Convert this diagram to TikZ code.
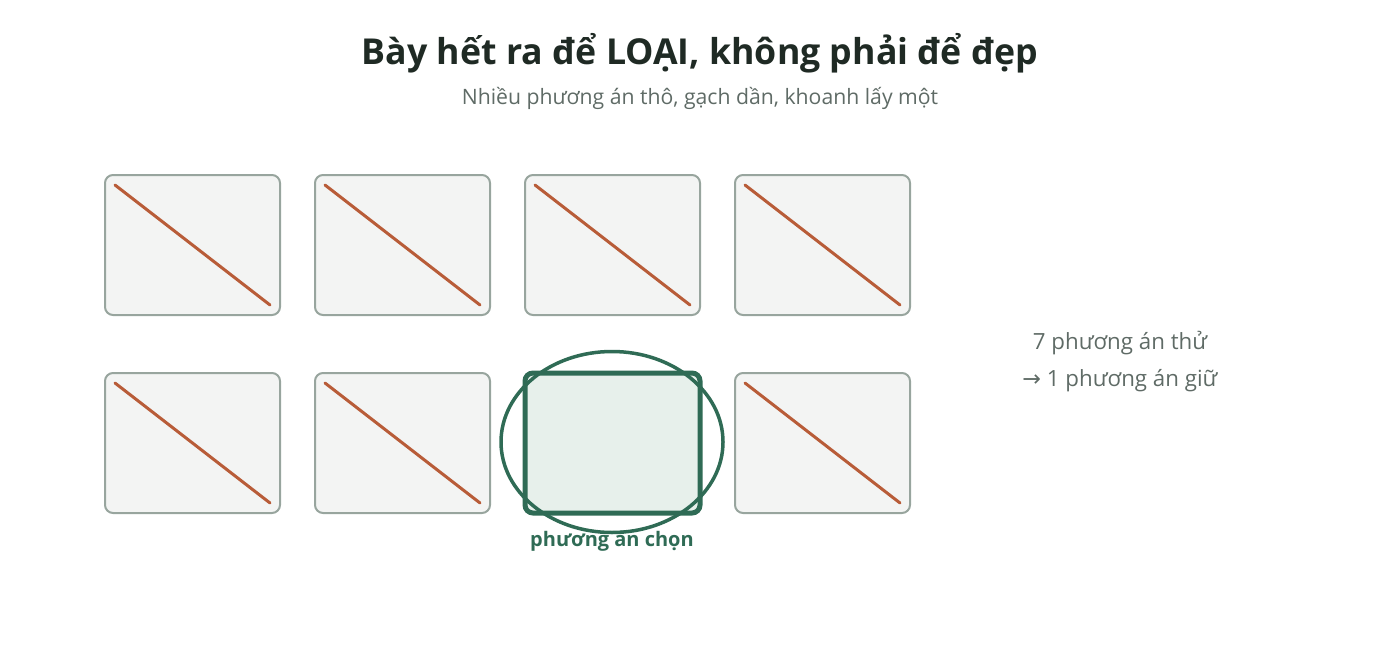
\documentclass[tikz,border=0pt]{standalone}
\usepackage{fontspec}
\setmainfont{Open Sans}
\newfontfamily\arrowfont{DejaVu Sans}
\definecolor{titlec}{HTML}{1F2A24}
\definecolor{subc}{HTML}{5F6B66}
\definecolor{boxstroke}{HTML}{98A59E}
\definecolor{boxfill}{HTML}{F3F4F3}
\definecolor{crossc}{HTML}{B85C38}
\definecolor{greenc}{HTML}{2F6B55}
\definecolor{greenfill}{HTML}{E7F0EB}
\tikzset{
  optbox/.style={draw=boxstroke, fill=boxfill, line width=2pt, rounded corners=8pt, minimum width=175pt, minimum height=140pt, inner sep=0pt},
  chosenbox/.style={draw=greenc, fill=greenfill, line width=5pt, rounded corners=8pt, minimum width=175pt, minimum height=140pt, inner sep=0pt},
  crossline/.style={draw=crossc, line width=3pt, line cap=round},
  ring/.style={draw=greenc, line width=3.5pt, ellipse, minimum width=222pt, minimum height=181pt, inner sep=0pt},
  note/.style={text=subc, font=\fontsize{21.2}{25}\selectfont, inner sep=0pt},
  sidenote/.style={text=subc, font=\fontsize{22.3}{26}\selectfont, inner sep=0pt}
}
\usetikzlibrary{shapes.geometric}
\begin{document}
\begin{tikzpicture}[x=1pt,y=-1pt]
\useasboundingbox (0,0) rectangle (1400,653);
\node[font=\bfseries\fontsize{35.7}{42}\selectfont, text=titlec, inner sep=0pt] (title) at (700,53) {Bày hết ra để LOẠI, không phải để đẹp};
\node[note] (sub) at (700,98) {Nhiều phương án thô, gạch dần, khoanh lấy một};
\foreach \i/\cx/\cy in {a/192.5/245, b/402.5/245, c/612.5/245, d/822.5/245, e/192.5/443, f/402.5/443, h/822.5/443}{
  \node[optbox] (\i) at (\cx,\cy) {};
  \draw[crossline] ([shift={(11pt,-11pt)}]\i.north west) -- ([shift={(-11pt,11pt)}]\i.south east);
}
\node[chosenbox] (g) at (612.5,443) {};
\node[font=\bfseries\fontsize{20}{24}\selectfont, text=greenc, inner sep=0pt] (lbl) at (612,541) {phương án chọn};
\node[ring] (ring) at (612,442) {};
\node[sidenote] (n1) at (1120,343) {7 phương án thử};
\node[sidenote] (n2) at (1120,381) {{\arrowfont →} 1 phương án giữ};
\end{tikzpicture}
\end{document}
